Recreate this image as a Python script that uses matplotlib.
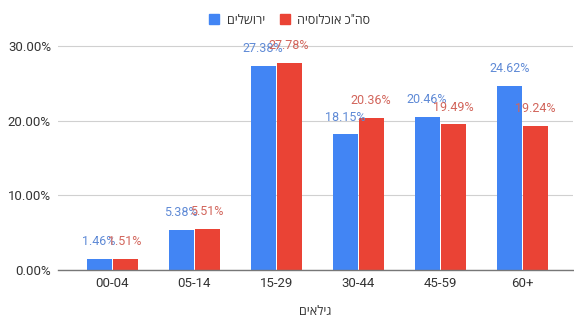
import matplotlib
matplotlib.use("Agg")
import matplotlib.pyplot as plt
from matplotlib.patches import Patch
import numpy as np

categories = ["00-04", "05-14", "15-29", "30-44", "45-59", "60+"]
jerusalem = [1.46, 5.38, 27.38, 18.15, 20.46, 24.62]
total_pop = [1.51, 5.51, 27.78, 20.36, 19.49, 19.24]
series_names = ["ירושלים", 'סה"כ אוכלוסיה']
x_title = "גילאים"
yticks = [0, 10, 20, 30]

def heb(s):
    return s[::-1]

FAM = ["Roboto", "Open Sans", "DejaVu Sans"]
plt.rcParams["font.family"] = FAM

blue = "#4285F4"
red = "#EA4335"
blue_lbl = "#5f8ad6"
red_lbl = "#d2655b"

fig = plt.figure(figsize=(5.74, 3.18), dpi=100)
ax = fig.add_axes([58/574, (318-270)/318, (573-58)/574, (270-40)/318])

x = np.arange(len(categories))
w = 0.305
b1 = ax.bar(x - w/2 - 0.006, jerusalem, w, color=blue, zorder=3)
b2 = ax.bar(x + w/2 + 0.006, total_pop, w, color=red, zorder=3)

for rects, vals, c in ((b1, jerusalem, blue_lbl), (b2, total_pop, red_lbl)):
    for r, v in zip(rects, vals):
        ax.annotate(f"{v:.2f}%", (r.get_x() + r.get_width()/2, v),
                    xytext=(0, 12.5), textcoords="offset points",
                    ha="center", va="center", fontsize=9, color=c, zorder=4)

ax.set_xlim(-0.66, 5.62)
ax.set_ylim(0, 30.8)
ax.set_yticks(yticks)
ax.set_yticklabels([f"{t:.2f}%" for t in yticks])
ax.set_xticks(x)
ax.set_xticklabels(categories)
ax.tick_params(axis="both", length=0, labelsize=9.5, colors="#333333")
ax.tick_params(axis="y", pad=5)
ax.tick_params(axis="x", pad=5)
ax.grid(axis="y", color="#d0d0d0", linewidth=0.8, zorder=0)
for s in ["top", "right", "left"]:
    ax.spines[s].set_visible(False)
ax.spines["bottom"].set_color("#777777")
ax.spines["bottom"].set_linewidth(1.0)
ax.spines["bottom"].set_zorder(5)

ax.set_xlabel(heb(x_title), fontsize=9, color="#333333", labelpad=10.5)

handles = [Patch(color=blue), Patch(color=red)]
fig.legend(handles, [heb(n) for n in series_names], loc="center",
           bbox_to_anchor=(0.505, 1 - 20/318), ncol=2, frameon=False,
           fontsize=9, handlelength=0.8, handleheight=0.8,
           handletextpad=0.6, columnspacing=1.2, labelcolor="#333333")

fig.savefig("out.png", dpi=100)
